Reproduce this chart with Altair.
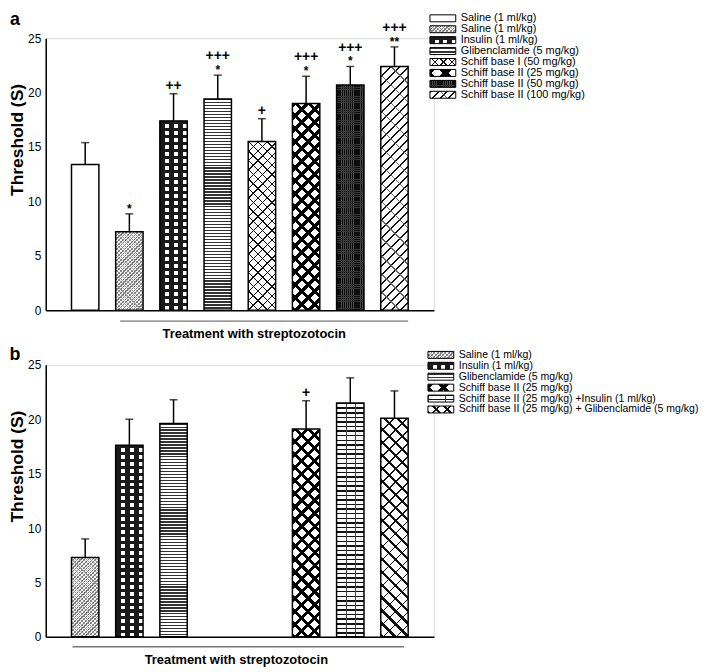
import math
import altair as alt
import pandas as pd

# ---------------- data ----------------
a_slots = [0, 1, 2, 3, 4, 5, 6, 7]
a_means = [13.4, 7.2, 17.4, 19.4, 15.5, 19.0, 20.7, 22.4]
a_upper = [15.4, 8.85, 19.9, 21.6, 17.6, 21.5, 22.4, 24.2]
a_star = ["", "*", "", "*", "", "*", "*", "**"]
a_plus = ["", "", "++", "+++", "+", "+++", "+++", "+++"]
a_patterns = ["blank", "stipple", "checker", "zigzag", "cross", "diamond", "dense", "herring"]
a_legend = ["Saline (1 ml/kg)", "Saline (1 ml/kg)", "Insulin (1 ml/kg)",
            "Glibenclamide (5 mg/kg)", "Schiff base I (50 mg/kg)",
            "Schiff base II (25 mg/kg)", "Schiff base II (50 mg/kg)",
            "Schiff base II (100 mg/kg)"]

b_slots = [0, 1, 2, 5, 6, 7]
b_means = [7.3, 17.6, 19.6, 19.1, 21.5, 20.1]
b_upper = [9.0, 20.0, 21.8, 21.7, 23.8, 22.6]
b_star = ["", "", "", "", "", ""]
b_plus = ["", "", "", "+", "", ""]
b_patterns = ["stipple", "checker", "zigzag", "diamond", "brick", "wave"]
b_legend = ["Saline (1 ml/kg)", "Insulin (1 ml/kg)", "Glibenclamide (5 mg/kg)",
            "Schiff base II (25 mg/kg)", "Schiff base II (25 mg/kg) +Insulin (1 ml/kg)",
            "Schiff base II (25 mg/kg) + Glibenclamide (5 mg/kg)"]

y_ticks = [0, 5, 10, 15, 20, 25]
x_label = "Treatment with streptozotocin"
y_label = "Threshold (S)"

# ---------------- geometry / style ----------------
FONT = "Liberation Sans"
W, H, YMAX, NSLOT = 391, 274, 25, 8
P_IN, P_OUT = 0.38, 0.583
STEP = W / (NSLOT - P_IN + 2 * P_OUT)
BW = STEP * (1 - P_IN)
PXU = H / YMAX
CLEAR = "rgba(255,255,255,0)"


def _stops(n, color, duty):
    s = []
    for i in range(n):
        a = round(i / n, 5)
        b = round((i + duty) / n, 5)
        c = round((i + 1) / n, 5)
        s += [dict(offset=a, color=color), dict(offset=b, color=color),
              dict(offset=b, color=CLEAR), dict(offset=c, color=CLEAR)]
    return s


def hst(period, color, duty):
    def f(w, h):
        n = max(1, round(h / period))
        return dict(gradient="linear", x1=0, y1=0, x2=0, y2=1, stops=_stops(n, color, duty))
    return f


def vst(period, color, duty):
    def f(w, h):
        n = max(1, round(w / period))
        return dict(gradient="linear", x1=0, y1=0, x2=1, y2=0, stops=_stops(n, color, duty))
    return f


def dst(direction, period, color, duty):
    def f(w, h):
        k = (w + h) / (w * w + h * h)
        n = max(1, round((w + h) / math.sqrt(2) / period))
        if direction == "/":
            return dict(gradient="linear", x1=0, y1=0, x2=k * w, y2=k * h,
                        stops=_stops(n, color, duty))
        return dict(gradient="linear", x1=0, y1=1, x2=k * w, y2=1 - k * h,
                    stops=_stops(n, color, duty))
    return f


PATTERNS = {
    "blank": ["white"],
    "stipple": ["#f2f2f2", dst("/", 2.6, "#7a7a7a", 0.33), dst("\\", 2.6, "#9a9a9a", 0.28)],
    "checker": ["white", vst(9.2, "#1a1a1a", 0.55), hst(7, "#1a1a1a", 0.45)],
    "zigzag": ["white", hst(3.0, "#333333", 0.45)],
    "cross": ["white", dst("/", 6.5, "#111111", 0.16), dst("\\", 6.5, "#111111", 0.16)],
    "diamond": ["white", dst("/", 9.5, "#000000", 0.32), dst("\\", 9.5, "#000000", 0.32)],
    "dense": ["#0d0d0d", vst(2.2, "#484848", 0.35), hst(2.2, "#383838", 0.3)],
    "herring": ["white", dst("/", 6.5, "#111111", 0.22), dst("\\", 13, "#666666", 0.08)],
    "brick": ["white", hst(4.6, "#111111", 0.32), vst(9, "#444444", 0.1)],
    "wave": ["white", dst("\\", 9, "#111111", 0.25), dst("/", 9, "#111111", 0.12)],
}

XSCALE = alt.Scale(domain=list(range(NSLOT)), paddingInner=P_IN, paddingOuter=P_OUT)
YSCALE = alt.Scale(domain=[0, YMAX], nice=False)
XAXIS = alt.Axis(labels=False, ticks=False, title=None, domainColor="black",
                 domainWidth=1.5, grid=False)
YAXIS = alt.Axis(values=y_ticks, ticks=False, grid=False, domainColor="black",
                 domainWidth=1.5, labelColor="black", labelFontSize=12, labelFont=FONT,
                 labelPadding=5, title=y_label, titleFontSize=17.5, titleFontWeight="bold",
                 titleFont=FONT, titleColor="black", titleX=-28, titleY=102,
                 titleAngle=270, titleBaseline="middle", titleAlign="center")

DUMMY = pd.DataFrame({"k": [0]})


def fill_of(f, w, h):
    return f(w, h) if callable(f) else f


def panel(letter, letter_y, slots, means, upper, stars, plus, pats, legend, leg_y0, leg_dy,
          leg_x, leg_fs, br, br_text):
    plo = [p if not s else "" for s, p in zip(stars, plus)]
    phi = [p if s else "" for s, p in zip(stars, plus)]
    df = pd.DataFrame(dict(slot=slots, mean=means, upper=upper, star=stars, plo=plo, phi=phi))
    X = alt.X("slot:O", scale=XSCALE, axis=XAXIS)
    Ym = alt.Y("mean:Q", scale=YSCALE, axis=YAXIS)
    Yu = alt.Y("upper:Q", scale=YSCALE, axis=YAXIS)
    base = alt.Chart(df)
    layers = []
    for s, m, p in zip(slots, means, pats):
        for f in PATTERNS[p]:
            layers.append(base.transform_filter(alt.datum.slot == s)
                          .mark_bar(fill=fill_of(f, BW, m * PXU), strokeWidth=0)
                          .encode(x=X, y=Ym))
    layers.append(base.mark_bar(fill="white", fillOpacity=0, stroke="black", strokeWidth=1.5)
                  .encode(x=X, y=Ym))
    layers.append(base.mark_rule(color="black", strokeWidth=1.5)
                  .encode(x=X, y=Ym, y2=alt.Y2("upper:Q")))
    layers.append(base.mark_tick(color="black", size=8, thickness=1.5).encode(x=X, y=Yu))
    layers.append(base.mark_text(font=FONT, fontSize=12, fontWeight="bold", dy=-5,
                                 baseline="middle", color="black")
                  .encode(x=X, y=Yu, text="star:N"))
    layers.append(base.mark_text(font=FONT, fontSize=14, fontWeight="bold", dy=-8,
                                 baseline="middle", color="black")
                  .encode(x=X, y=Yu, text="plo:N"))
    layers.append(base.mark_text(font=FONT, fontSize=14, fontWeight="bold", dy=-19,
                                 baseline="middle", color="black")
                  .encode(x=X, y=Yu, text="phi:N"))
    # bracket under the treated groups
    d = alt.Chart(DUMMY)
    layers.append(d.mark_rule(color="#777777", strokeWidth=1.5)
                  .encode(x=alt.value(br[0]), x2=alt.value(br[1]), y=alt.value(br[2])))
    layers.append(d.mark_text(text=x_label, font=FONT, fontSize=13, fontWeight="bold",
                              color="black", baseline="middle", align="center")
                  .encode(x=alt.value(br_text[0]), y=alt.value(br_text[1])))
    # panel letter
    layers.append(d.mark_text(text=letter, font=FONT, fontSize=18, fontWeight="bold",
                              color="black", baseline="middle", align="center")
                  .encode(x=alt.value(-31), y=alt.value(letter_y)))
    # legend
    sw, sh = 26, 7
    for j, (lab, p) in enumerate(legend):
        yc = leg_y0 + j * leg_dy
        for f in PATTERNS[p]:
            layers.append(d.mark_rect(fill=fill_of(f, sw, sh), strokeWidth=0)
                          .encode(x=alt.value(leg_x), x2=alt.value(leg_x + sw),
                                  y=alt.value(yc - sh / 2), y2=alt.value(yc + sh / 2)))
        layers.append(d.mark_rect(fill="white", fillOpacity=0, stroke="black", strokeWidth=1)
                      .encode(x=alt.value(leg_x), x2=alt.value(leg_x + sw),
                              y=alt.value(yc - sh / 2), y2=alt.value(yc + sh / 2)))
        layers.append(d.mark_text(text=lab, font=FONT, fontSize=leg_fs, color="black",
                                  align="left", baseline="middle")
                      .encode(x=alt.value(leg_x + sw + 5), y=alt.value(yc)))
    return alt.layer(*layers).properties(width=W, height=H)


pa = panel("a", -18, a_slots, a_means, a_upper, a_star, a_plus, a_patterns,
           list(zip(a_legend, a_patterns)), -20, 11, 387, 11,
           (75, 365, 285), (210, 298))
pb = panel("b", -10, b_slots, b_means, b_upper, b_star, b_plus, b_patterns,
           list(zip(b_legend, b_patterns)), -10, 11, 385, 10.6,
           (27, 361, 284), (192, 297))

chart = (alt.vconcat(pa, pb, spacing=3)
         .properties(padding=0)
         .configure_view(strokeWidth=0)
         .configure(font=FONT))

chart.save("out.html", embed_options={"renderer": "svg", "actions": False})
